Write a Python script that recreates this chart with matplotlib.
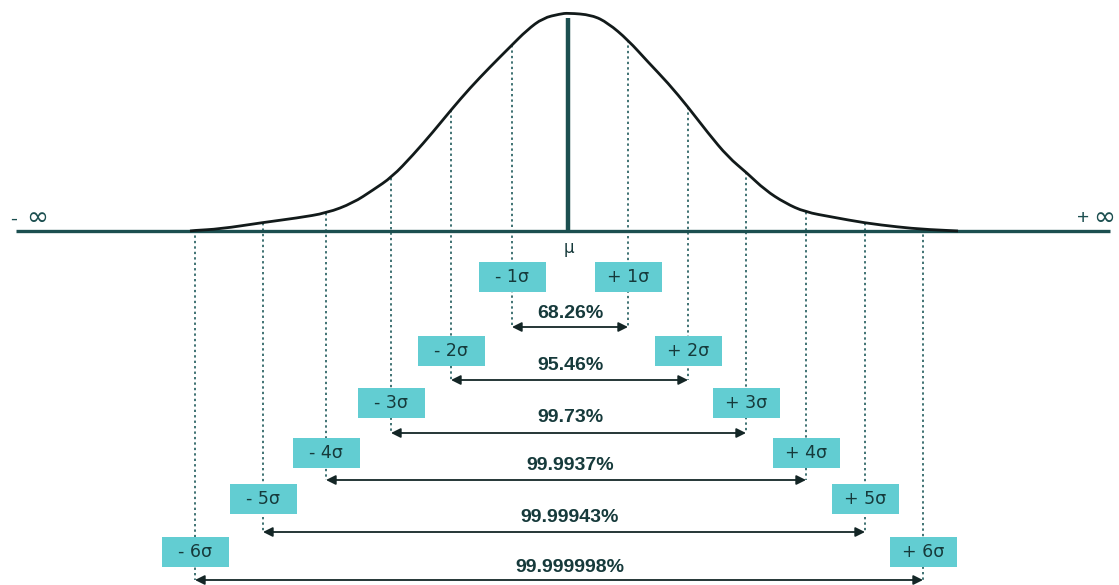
import matplotlib
matplotlib.use("Agg")
import matplotlib.pyplot as plt
from matplotlib.patches import Rectangle, PathPatch
from matplotlib.path import Path
import numpy as np

# bell curve (horizontal position, height above the baseline)
curve_x = [190, 193, 220, 263, 297, 327, 353, 373, 392, 413, 433, 451, 470, 490, 510,
           527, 543, 560, 568, 592, 608, 628, 648, 668, 688, 708, 728, 747, 765,
           785, 805, 832, 865, 898, 925, 958]
curve_h = [0, 0.5, 2, 8.5, 13, 18, 28, 41, 54, 76, 99, 121, 143, 164, 184,
           201, 213, 217, 218, 216, 208, 191, 169, 148, 124, 98, 74, 58, 41,
           28, 19, 14, 8, 4, 1.5, 0]

MEAN_X = 568
sigmas = [1, 2, 3, 4, 5, 6]
left_lines = [512, 451, 391, 326, 263, 195]
right_lines = [628, 688, 746, 806, 865, 923]
coverage = ["68.26%", "95.46%", "99.73%", "99.9937%", "99.99943%", "99.999998%"]

# layout (pixels of the 1119x585 picture, measured downwards from the top)
W, H = 1119, 585
BASE = 231
arrow_px = [327, 380, 433, 480, 532, 580]
box_px = [277, 351, 403, 453, 499, 552]
label_px = [313, 366, 418, 466, 518, 567]

DARK = "#1c4f50"
BOX = "#62cdd2"
TXT = "#163a3b"


def py(p):
    return BASE - p


def smooth_path(xs, ys):
    # quadratic bezier through the midpoints, read points act as control points
    pts = list(zip(xs, ys))
    verts = [pts[0]]
    codes = [Path.MOVETO]
    for i in range(1, len(pts) - 1):
        mid = ((pts[i][0] + pts[i + 1][0]) / 2, (pts[i][1] + pts[i + 1][1]) / 2)
        if i == len(pts) - 2:
            mid = pts[-1]
        verts += [pts[i], mid]
        codes += [Path.CURVE3, Path.CURVE3]
    return Path(verts, codes)


fig = plt.figure(figsize=(W / 100, H / 100), dpi=100)
ax = fig.add_axes([0, 0, 1, 1])
ax.set_xlim(0, W)
ax.set_ylim(py(H), py(0))
ax.axis("off")

# baseline and infinity marks
ax.plot([16, 1110], [0, 0], color=DARK, lw=2.4, solid_capstyle="butt", zorder=3)
ax.text(10, py(219), "-", fontsize=15, color=DARK, ha="left", va="center",
        family="Liberation Sans")
ax.text(26, py(218), "∞", fontsize=19, color=DARK, ha="left", va="center",
        family="DejaVu Sans")
ax.text(1077, py(219), "+", fontsize=15, color=DARK, ha="left", va="center",
        family="Liberation Sans")
ax.text(1093, py(218), "∞", fontsize=19, color=DARK, ha="left", va="center",
        family="DejaVu Sans")

# curve and mean line
ax.add_patch(PathPatch(smooth_path(curve_x, curve_h), facecolor="none",
                       edgecolor="#121a1a", lw=2.0, zorder=4))
ax.plot([MEAN_X, MEAN_X], [0, py(18)], color=DARK, lw=3.2, solid_capstyle="butt", zorder=3)
ax.text(MEAN_X + 1, py(248), "μ", fontsize=12, color=TXT, ha="center", va="center",
        family="DejaVu Sans")

bw, bh = 67, 30
for i, k in enumerate(sigmas):
    ya = py(arrow_px[i])
    for sign, xl in (("-", left_lines[i]), ("+", right_lines[i])):
        top = np.interp(xl, curve_x, curve_h)
        ax.plot([xl, xl], [top, ya], color="#3f7273", lw=1.4,
                linestyle=(0, (1.2, 1.6)), zorder=2)
        ax.add_patch(Rectangle((xl - bw / 2, py(box_px[i]) - bh / 2), bw, bh,
                               facecolor=BOX, edgecolor="none", zorder=5))
        ax.text(xl, py(box_px[i]), f"{sign} {k}σ", fontsize=12.5, color=TXT,
                ha="center", va="center", family="DejaVu Sans", zorder=6)
    ax.annotate("", xy=(left_lines[i], ya), xytext=(right_lines[i], ya),
                arrowprops=dict(arrowstyle="<|-|>", color="#142626", lw=1.3,
                                mutation_scale=14, shrinkA=0, shrinkB=0), zorder=4)
    ax.text(MEAN_X + 2, py(label_px[i]), coverage[i], fontsize=14, fontweight="bold",
            color=TXT, ha="center", va="center", family="Liberation Sans")

fig.savefig("out.png", dpi=100, facecolor="white")
